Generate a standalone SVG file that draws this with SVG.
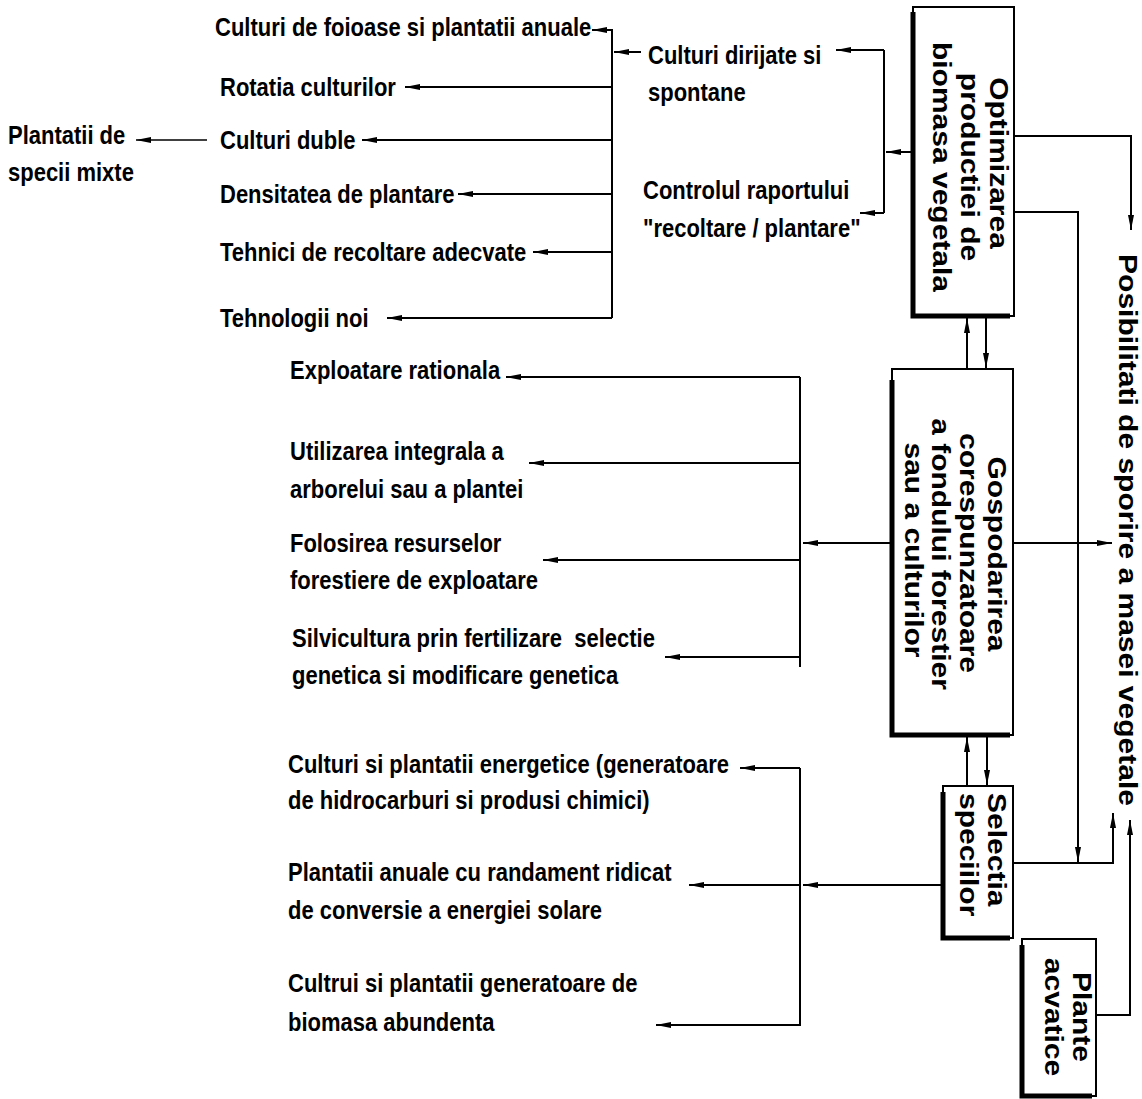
<svg xmlns="http://www.w3.org/2000/svg" width="1142" height="1099" viewBox="0 0 1142 1099">
<style>
text{font-family:"Liberation Sans",Arial,sans-serif;font-weight:bold;font-size:22px;fill:#000}
.bt{font-size:25px}
.ln{fill:none;stroke:#000;stroke-width:2}
.thin{fill:none;stroke:#000;stroke-width:1.5}
.box{fill:#fff;stroke:#000;stroke-width:2}
.sh{fill:none;stroke:#000;stroke-width:5}
</style>
<defs>
<marker id="ah" viewBox="0 0 15 8" refX="15" refY="4" markerWidth="15" markerHeight="8" markerUnits="userSpaceOnUse" orient="auto">
<path d="M0,1 L15,4 L0,7 z" fill="#000"/>
</marker>
</defs>

<g id="connectors">
<path class="ln" d="M612,318 V30 H592" marker-end="url(#ah)"/>
<path class="ln" d="M612,87 H405" marker-end="url(#ah)"/>
<path class="ln" d="M612,140 H362" marker-end="url(#ah)"/>
<path class="ln" d="M612,194 H458" marker-end="url(#ah)"/>
<path class="ln" d="M612,252 H533" marker-end="url(#ah)"/>
<path class="ln" d="M612,318 H387" marker-end="url(#ah)"/>
<path class="thin" d="M207,140 H136" marker-end="url(#ah)"/>
<path class="ln" d="M641,52 H614" marker-end="url(#ah)"/>
<path class="ln" d="M913,152 H886" marker-end="url(#ah)"/>
<path class="ln" d="M884,50 V213"/>
<path class="ln" d="M884,50 H836" marker-end="url(#ah)"/>
<path class="ln" d="M884,213 H860" marker-end="url(#ah)"/>
<path class="ln" d="M892,543 H803" marker-end="url(#ah)"/>
<path class="ln" d="M800,377 V667"/>
<path class="ln" d="M800,377 H506" marker-end="url(#ah)"/>
<path class="ln" d="M800,463 H529" marker-end="url(#ah)"/>
<path class="ln" d="M800,560 H543" marker-end="url(#ah)"/>
<path class="ln" d="M800,657 H665" marker-end="url(#ah)"/>
<path class="ln" d="M943,885 H803" marker-end="url(#ah)"/>
<path class="ln" d="M800,885 H689" marker-end="url(#ah)"/>
<path class="ln" d="M800,768 V1026"/>
<path class="ln" d="M800,768 H740" marker-end="url(#ah)"/>
<path class="ln" d="M800,1025 H656" marker-end="url(#ah)"/>
<path class="ln" d="M1014,136 H1131 V230" marker-end="url(#ah)"/>
<path class="ln" d="M1014,212 H1078 V862" marker-end="url(#ah)"/>
<path class="ln" d="M1013,863 H1113 V813" marker-end="url(#ah)"/>
<path class="ln" d="M1096,1015 H1130 V820" marker-end="url(#ah)"/>
<path class="ln" d="M1013,543 H1112" marker-end="url(#ah)"/>
<path class="ln" d="M967,369 V318" marker-end="url(#ah)"/>
<path class="ln" d="M986,318 V368" marker-end="url(#ah)"/>
<path class="ln" d="M967,786 V737" marker-end="url(#ah)"/>
<path class="ln" d="M987,737 V785" marker-end="url(#ah)"/>
</g>

<g id="n-optimizarea">
<rect class="box" x="913" y="7" width="101" height="309"/>
<path class="sh" d="M913,12 V316 H1010"/>
<text class="bt" transform="translate(990,163) rotate(90) scale(1.2,1)" text-anchor="middle">Optimizarea</text>
<text class="bt" transform="translate(961,167) rotate(90) scale(1.2,1)" text-anchor="middle">productiei de</text>
<text class="bt" transform="translate(933,167) rotate(90) scale(1.2,1)" text-anchor="middle">biomasa vegetala</text>
</g>

<g id="n-gospodarirea">
<rect class="box" x="892" y="369" width="121" height="366"/>
<path class="sh" d="M892,380 V735 H1010"/>
<text class="bt" transform="translate(988,554) rotate(90) scale(1.2,1)" text-anchor="middle">Gospodarirea</text>
<text class="bt" transform="translate(960,553) rotate(90) scale(1.2,1)" text-anchor="middle">corespunzatoare</text>
<text class="bt" transform="translate(932,554) rotate(90) scale(1.2,1)" text-anchor="middle">a fondului forestier</text>
<text class="bt" transform="translate(905,550) rotate(90) scale(1.2,1)" text-anchor="middle">sau a culturilor</text>
</g>

<g id="n-selectia">
<rect class="box" x="943" y="786" width="70" height="152"/>
<path class="sh" d="M943,792 V938 H1010"/>
<text class="bt" transform="translate(988,793) rotate(90) scale(1.2,1)">Selectia</text>
<text class="bt" transform="translate(960,793) rotate(90) scale(1.2,1)">speciilor</text>
</g>

<g id="n-plante">
<rect class="box" x="1022" y="939" width="74" height="157"/>
<path class="sh" d="M1022,945 V1096 H1092"/>
<text class="bt" transform="translate(1073,1017) rotate(90) scale(1.2,1)" text-anchor="middle">Plante</text>
<text class="bt" transform="translate(1045,1017) rotate(90) scale(1.2,1)" text-anchor="middle">acvatice</text>
</g>

<g id="n-posibilitati">
<text class="bt" transform="translate(1119,530) rotate(90) scale(1.2,1)" text-anchor="middle">Posibilitati de sporire a masei vegetale</text>
</g>

<g id="n-culturi-dirijate">
<text transform="translate(648,64) scale(1,1.2)">Culturi dirijate si</text>
<text transform="translate(648,101) scale(1,1.2)">spontane</text>
</g>
<g id="n-controlul">
<text transform="translate(643,199) scale(1,1.2)">Controlul raportului</text>
<text transform="translate(643,237) scale(1,1.2)">"recoltare / plantare"</text>
</g>

<g id="n-foioase"><text transform="translate(215,36) scale(1,1.2)">Culturi de foioase si plantatii anuale</text></g>
<g id="n-rotatia"><text transform="translate(220,96) scale(1,1.2)">Rotatia culturilor</text></g>
<g id="n-duble"><text transform="translate(220,149) scale(1,1.2)">Culturi duble</text></g>
<g id="n-mixte"><text transform="translate(8,144) scale(1,1.2)">Plantatii de</text><text transform="translate(8,181) scale(1,1.2)">specii mixte</text></g>
<g id="n-densitatea"><text transform="translate(220,203) scale(1,1.2)">Densitatea de plantare</text></g>
<g id="n-tehnici"><text transform="translate(220,261) scale(1,1.2)">Tehnici de recoltare adecvate</text></g>
<g id="n-tehnologii"><text transform="translate(220,327) scale(1,1.2)">Tehnologii noi</text></g>

<g id="n-exploatare"><text transform="translate(290,379) scale(1,1.2)">Exploatare rationala</text></g>
<g id="n-utilizarea"><text transform="translate(290,460) scale(1,1.2)">Utilizarea integrala a</text><text transform="translate(290,498) scale(1,1.2)">arborelui sau a plantei</text></g>
<g id="n-folosirea"><text transform="translate(290,552) scale(1,1.2)">Folosirea resurselor</text><text transform="translate(290,589) scale(1,1.2)">forestiere de exploatare</text></g>
<g id="n-silvicultura"><text transform="translate(292,647) scale(1,1.2)" xml:space="preserve">Silvicultura prin fertilizare  selectie</text><text transform="translate(292,684) scale(1,1.2)">genetica si modificare genetica</text></g>

<g id="n-energetice"><text transform="translate(288,773) scale(1,1.2)">Culturi si plantatii energetice (generatoare</text><text transform="translate(288,809) scale(1,1.2)">de hidrocarburi si produsi chimici)</text></g>
<g id="n-anuale"><text transform="translate(288,881) scale(1,1.2)">Plantatii anuale cu randament ridicat</text><text transform="translate(288,919) scale(1,1.2)">de conversie a energiei solare</text></g>
<g id="n-biomasa"><text transform="translate(288,992) scale(1,1.2)">Cultrui si plantatii generatoare de</text><text transform="translate(288,1031) scale(1,1.2)">biomasa abundenta</text></g>
</svg>
